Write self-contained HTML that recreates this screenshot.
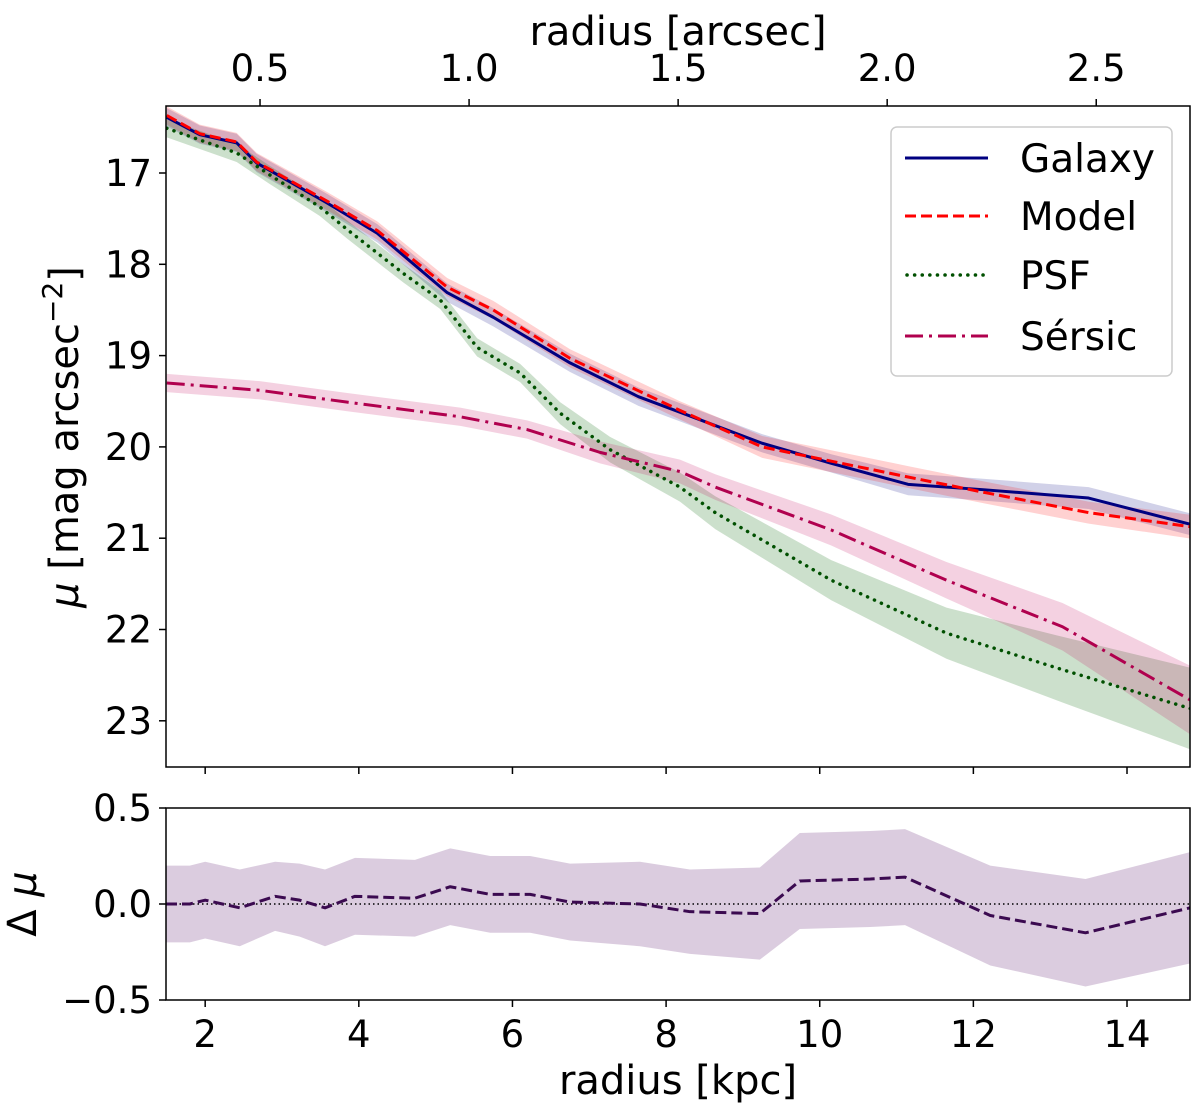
<!DOCTYPE html>
<html><head><meta charset="utf-8"><style>
body{margin:0;background:#fff}
svg text{font-family:"DejaVu Sans","Liberation Sans",sans-serif;fill:#000}
</style></head><body>
<svg id="chart" width="1200" height="1112" xmlns="http://www.w3.org/2000/svg"></svg>
<script>
const galX=[1.50,1.93,2.41,2.67,3.59,4.24,5.15,5.75,6.75,7.64,8.18,9.25,10.15,11.15,12.15,13.50,14.88];
const galY=[16.39,16.58,16.67,16.89,17.33,17.66,18.31,18.58,19.08,19.45,19.62,19.96,20.18,20.41,20.47,20.56,20.86];
const galErr=[0.1,0.1,0.1,0.1,0.1,0.1,0.1,0.1,0.1,0.1,0.1,0.1,0.1,0.12,0.12,0.12,0.12];
const modX=[1.50,1.93,2.41,2.67,3.59,4.24,5.15,5.75,6.75,8.18,9.25,11.15,12.15,13.50,14.88];
const modY=[16.37,16.57,16.66,16.88,17.31,17.63,18.25,18.50,19.03,19.60,20.00,20.33,20.50,20.72,20.88];
const modErr=[0.1,0.1,0.1,0.1,0.1,0.1,0.1,0.1,0.1,0.1,0.12,0.12,0.12,0.12,0.13];
const psfX=[1.50,2.41,2.84,3.49,3.85,4.58,5.06,5.54,6.10,6.62,7.27,8.18,8.64,10.15,11.65,13.16,14.88];
const psfY=[16.51,16.78,17.02,17.37,17.62,18.10,18.39,18.91,19.19,19.63,20.03,20.44,20.72,21.46,22.04,22.44,22.88];
const psfErr=[0.1,0.1,0.1,0.1,0.1,0.1,0.1,0.1,0.1,0.12,0.14,0.16,0.18,0.22,0.28,0.36,0.45];
const serX=[1.50,2.71,3.85,5.32,6.19,7.14,8.18,8.64,10.15,11.65,13.16,14.88];
const serY=[19.30,19.38,19.51,19.67,19.81,20.06,20.27,20.44,20.91,21.46,21.97,22.80];
const serErr=[0.1,0.1,0.1,0.1,0.1,0.12,0.13,0.14,0.17,0.2,0.26,0.38];
const resX=[1.49,1.80,2.00,2.45,2.91,3.23,3.56,3.95,4.73,5.19,5.71,6.23,6.75,7.66,8.31,9.22,9.74,10.66,11.11,12.22,13.46,14.82];
const resY=[0.00,0.00,0.02,-0.02,0.04,0.02,-0.02,0.04,0.03,0.09,0.05,0.05,0.01,0.00,-0.04,-0.05,0.12,0.13,0.14,-0.06,-0.15,-0.02];
const resErr=[0.2,0.2,0.2,0.2,0.18,0.19,0.2,0.2,0.2,0.2,0.2,0.2,0.2,0.22,0.22,0.24,0.25,0.25,0.25,0.26,0.28,0.29];
const kpcTicks=[2,4,6,8,10,12,14];
const arcTicks=[0.5,1.0,1.5,2.0,2.5];
const arcLabels=["0.5","1.0","1.5","2.0","2.5"];
const muTicks=[17,18,19,20,21,22,23];
const resTicks=[0.5,0.0,-0.5];
const resLabels=["0.5","0.0","\u22120.5"];

const svg=document.getElementById('chart');
const NS='http://www.w3.org/2000/svg';
const L=166,R=1190,T1=106,B1=767,T2=808,B2=1000;
const X0=1.49,X1=14.82;
const sx=k=>L+(k-X0)/(X1-X0)*(R-L);
const sy=m=>173+(m-17)*91.3;
const sr=v=>904-v*192;
const arcToKpc=a=>X0+(260+(a-0.5)*418-L)/76.8;
function el(tag,attrs,parent){const e=document.createElementNS(NS,tag);for(const k in attrs)e.setAttribute(k,attrs[k]);(parent||svg).appendChild(e);return e;}
function txt(x,y,s,size,anchor,parent){const t=el('text',{x:x,y:y,'font-size':size,'text-anchor':anchor||'middle'},parent);t.textContent=s;return t;}

const defs=el('defs',{});
const c1=el('clipPath',{id:'c1'},defs);el('rect',{x:L,y:T1,width:R-L,height:B1-T1},c1);
const c2=el('clipPath',{id:'c2'},defs);el('rect',{x:L,y:T2,width:R-L,height:B2-T2},c2);

const g1=el('g',{'clip-path':'url(#c1)'});


function band(xs,ys,es,fy,color,op,name,g){
  let d='M'+xs.map((x,i)=>sx(x)+','+fy(ys[i]-es[i])).join('L');
  for(let i=xs.length-1;i>=0;i--)d+='L'+sx(xs[i])+','+fy(ys[i]+es[i]);
  const p=el('path',{d:d+'Z',fill:color,'fill-opacity':op,stroke:'none'},g);
  
  
}
function line(xs,ys,fy,color,w,dash,name,g,cap){
  const p=el('path',{d:'M'+xs.map((x,i)=>sx(x)+','+fy(ys[i])).join('L'),fill:'none',stroke:color,'stroke-width':w,'stroke-dasharray':dash||'none','stroke-linecap':cap||'butt','stroke-linejoin':'round'},g);
  
  
}
band(galX,galY,galErr,sy,'#000080',0.18,'galaxy-band',g1);
band(modX,modY,modErr,sy,'#ff0000',0.18,'model-band',g1);
band(psfX,psfY,psfErr,sy,'#006400',0.2,'psf-band',g1);
band(serX,serY,serErr,sy,'#c0005a',0.18,'sersic-band',g1);
line(galX,galY,sy,'#000080',3,null,'galaxy-line',g1);
line(modX,modY,sy,'#ff0000',3,'11,5','model-line',g1);
line(psfX,psfY,sy,'#005000',3.5,'0.1,7.5','psf-line',g1,'round');
line(serX,serY,sy,'#b0004e',3,'18,6,3,6','sersic-line',g1);

const g2=el('g',{'clip-path':'url(#c2)'});


band(resX,resY,resErr,sr,'#4b0060',0.2,'residual-band',g2);
const zl=el('line',{x1:L,x2:R,y1:sr(0),y2:sr(0),stroke:'#000','stroke-width':1.5,'stroke-dasharray':'1.5,3'},g2);


line(resX,resY,sr,'#3b0a50',3,'11,5','residual-line',g2);

const f1=el('rect',{x:L,y:T1,width:R-L,height:B1-T1,fill:'none',stroke:'#000','stroke-width':1.5});

const f2=el('rect',{x:L,y:T2,width:R-L,height:B2-T2,fill:'none',stroke:'#000','stroke-width':1.5});


const ax=el('g',{});


kpcTicks.forEach(k=>{
  el('line',{x1:sx(k),x2:sx(k),y1:B1,y2:B1+7,stroke:'#000','stroke-width':1.5},ax);
  el('line',{x1:sx(k),x2:sx(k),y1:B2,y2:B2+7,stroke:'#000','stroke-width':1.5},ax);
  const t=txt(sx(k),B2+47,String(k),37,'middle',ax);
  
  
});
arcTicks.forEach((a,i)=>{
  const x=sx(arcToKpc(a));
  el('line',{x1:x,x2:x,y1:T1,y2:T1-7,stroke:'#000','stroke-width':1.5},ax);
  const t=txt(x,T1-25,arcLabels[i],37,'middle',ax);
  
  
});
muTicks.forEach(m=>{
  el('line',{x1:L,x2:L-7,y1:sy(m),y2:sy(m),stroke:'#000','stroke-width':1.5},ax);
  const t=txt(L-14,sy(m)+13,String(m),37,'end',ax);
  
  
});
resTicks.forEach((v,i)=>{
  el('line',{x1:L,x2:L-7,y1:sr(v),y2:sr(v),stroke:'#000','stroke-width':1.5},ax);
  const t=txt(L-14,sr(v)+13,resLabels[i],37,'end',ax);
  
  
});
</script>
<svg style="position:absolute;left:0;top:0" width="1200" height="1112" xmlns="http://www.w3.org/2000/svg">
<g font-family="DejaVu Sans, Liberation Sans, sans-serif">
<text x="678" y="1094" font-size="40" text-anchor="middle">radius [kpc]</text>
<text x="678" y="45" font-size="40" text-anchor="middle">radius [arcsec]</text>
<text transform="translate(78,437) rotate(-90)" font-size="40" text-anchor="middle"><tspan font-style="italic">μ</tspan> [mag arcsec<tspan dy="-16" font-size="28">−2</tspan><tspan dy="16">]</tspan></text>
<text transform="translate(36,904) rotate(-90)" font-size="40" text-anchor="middle">Δ <tspan font-style="italic">μ</tspan></text>
<g>
<rect x="891" y="127" width="281" height="249" rx="6" fill="#fff" fill-opacity="0.85" stroke="#ccc" stroke-width="1.5"/>
<g><line x1="905" x2="988" y1="158" y2="158" stroke="#000080" stroke-width="3"/><text x="1020" y="172" font-size="39">Galaxy</text></g>
<g><line x1="905" x2="988" y1="216" y2="216" stroke="#ff0000" stroke-width="3" stroke-dasharray="11,5"/><text x="1020" y="230" font-size="39">Model</text></g>
<g><line x1="907" x2="988" y1="275" y2="275" stroke="#005000" stroke-width="3.5" stroke-dasharray="0.1,7.5" stroke-linecap="round"/><text x="1020" y="289" font-size="39">PSF</text></g>
<g><line x1="905" x2="988" y1="336" y2="336" stroke="#b0004e" stroke-width="3" stroke-dasharray="18,6,3,6"/><text x="1020" y="350" font-size="39">Sérsic</text></g>
</g>
</g>
</svg>
</body></html>
